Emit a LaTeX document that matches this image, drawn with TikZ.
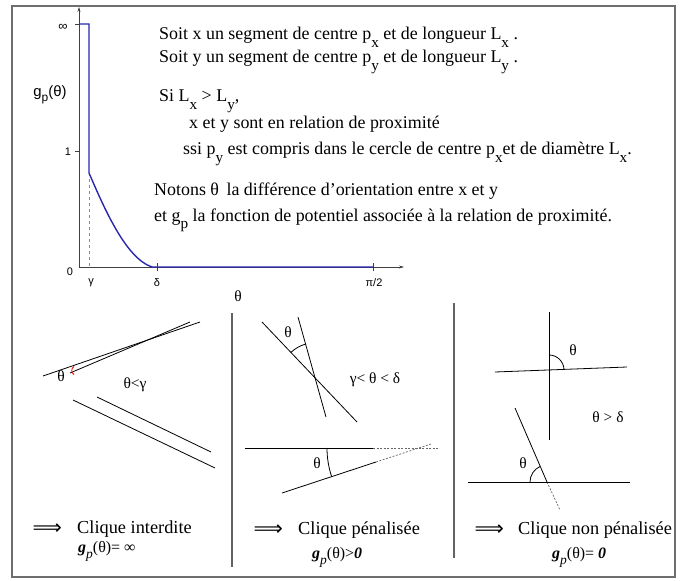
\documentclass[tikz,border=0pt]{standalone}
\usepackage{fontspec}
\usepackage{graphicx}
\setmainfont{Liberation Serif}
\newfontfamily\axisfont{Liberation Sans}
\newfontfamily\arrowfont{DejaVu Sans}
\usetikzlibrary{arrows.meta,calc}
\newcommand\lsub[1]{\raisebox{-0.42em}{\scalebox{0.85}{#1}}}
\definecolor{curveblue}{RGB}{40,40,175}
\definecolor{framegray}{RGB}{110,110,110}
\tikzset{
  frame/.style={draw=framegray,line width=1.5bp},
  divider/.style={draw=framegray!90!black,line width=1.1bp},
  axis/.style={draw=black!75,line width=0.6bp},
  curve/.style={draw=curveblue,line width=1.4bp},
  seg/.style={draw=black,line width=0.8bp},
  dseg/.style={draw=black!60,line width=0.7bp,dash pattern=on 2bp off 1.5bp},
  angarc/.style={draw=black,line width=0.8bp},
  toptext/.style={anchor=base west,inner sep=0,font=\fontsize{18}{21}\selectfont},
  bigtext/.style={anchor=base west,inner sep=0,font=\fontsize{18.4}{21}\selectfont},
  formula/.style={anchor=base west,inner sep=0,font=\fontsize{16}{19}\selectfont},
  implies/.style={anchor=base east,inner sep=0,font=\arrowfont\fontsize{20.5}{22}\selectfont},
  axlab/.style={inner sep=0,font=\axisfont\fontsize{11}{13}\selectfont},
  thetalab/.style={inner sep=0,font=\fontsize{15.5}{18}\selectfont},
}
\begin{document}
\begin{tikzpicture}[x=1bp,y=-1bp]
\useasboundingbox (0,0) rectangle (684,581);
\draw[frame] (12,6) rectangle (675,577);

% ---- graph ----
\coordinate (O) at (79,267);
\coordinate (Ytop) at (79,7);
\coordinate (Xend) at (404,267);
\draw[axis,-{Stealth[length=5bp,width=3bp]}] (O) -- (Ytop);
\draw[axis,-{Stealth[length=5bp,width=3bp]}] (O) -- (Xend);
\coordinate (t1a) at (75,151); \coordinate (t1b) at (79,151);
\draw[axis] (t1a) -- (t1b);
\coordinate (tia) at (75,24); \coordinate (tib) at (79,24);
\draw[axis] (tia) -- (tib);
\coordinate (tda) at (157,263); \coordinate (tdb) at (157,271);
\draw[axis] (tda) -- (tdb);
\coordinate (tpa) at (373,263); \coordinate (tpb) at (373,271);
\draw[axis] (tpa) -- (tpb);
\coordinate (ga) at (89,173); \coordinate (gb) at (89,267);
\draw[draw=black!45,line width=0.6bp,dashed] (ga) -- (gb);
\coordinate (c0) at (79,24); \coordinate (c1) at (89,24);
\coordinate (c3) at (152,267); \coordinate (c4) at (373,267);
\draw[curve] (c0) -- (c1) -- (ga) .. controls (103,205) and (125,258) .. (c3) -- (c4);

\node[axlab,font=\axisfont\fontsize{13}{14}\selectfont] (linf) at (63,27) {∞};
\node[axlab] (l1) at (68,152) {1};
\node[axlab] (l0) at (70,272) {0};
\node[axlab] (lgam) at (91,283) {γ};
\node[axlab] (ldel) at (157,283) {δ};
\node[axlab] (lpi) at (374,283) {π/2};
\node[inner sep=0,font=\axisfont\fontsize{15}{18}\selectfont] (lgp) at (50,95) {g\raisebox{-0.3em}{\scalebox{0.8}{p}}(θ)};
\node[thetalab] (lth) at (238,296) {θ};

% ---- top text ----
\node[toptext] (tx1) at (159,40) {Soit x un segment de centre p\lsub{x} et de longueur L\lsub{x} .};
\node[toptext] (tx2) at (159,63) {Soit y un segment de centre p\lsub{y} et de longueur L\lsub{y} .};
\node[toptext] (tx3) at (159,102) {Si L\lsub{x} > L\lsub{y},};
\node[toptext] (tx4) at (189,129) {x et y sont en relation de proximité};
\node[toptext] (tx5) at (183,155) {ssi p\lsub{y} est compris dans le cercle de centre p\lsub{x}et de diamètre L\lsub{x}.};
\node[toptext] (tx6) at (154,196) {Notons θ\, la différence d’orientation entre x et y};
\node[toptext] (tx7) at (154,221) {et g\lsub{p} la fonction de potentiel associée à la relation de proximité.};

% ---- dividers ----
\coordinate (d1a) at (232,313); \coordinate (d1b) at (232,567);
\draw[divider] (d1a) -- (d1b);
\coordinate (d2a) at (454,303); \coordinate (d2b) at (454,558);
\draw[divider] (d2a) -- (d2b);

% ---- panel 1 ----
\coordinate (A1) at (43,376); \coordinate (A2) at (200,322);
\coordinate (B1) at (70,373); \coordinate (B2) at (190,322);
\draw[seg] (A1) -- (A2);
\draw[seg] (B1) -- (B2);
\coordinate (ra) at (74,366.5); \coordinate (rb) at (74,374.5);
\draw[red,line width=0.8bp] (ra) .. controls (71,368) and (71,373) .. (rb);
\node[thetalab] (p1th) at (61,376) {θ};
\node[thetalab] (p1lab) at (135,385) {θ<γ};
\coordinate (C1) at (97,397); \coordinate (C2) at (211,452);
\coordinate (D1) at (73,400); \coordinate (D2) at (215,468);
\draw[seg] (C1) -- (C2);
\draw[seg] (D1) -- (D2);
\node[implies] (ar1) at (62,534) {⟹};
\node[bigtext] (cl1) at (77,533) {Clique interdite};
\node[formula] (f1) at (78,552) {\textbf{\textit{g}}\lsub{\textit{p}}(θ)= ∞};

% ---- panel 2 ----
\coordinate (E1) at (262,322); \coordinate (E2) at (357,422);
\coordinate (F1) at (298,317); \coordinate (F2) at (326,417);
\draw[seg] (E1) -- (E2);
\draw[seg] (F1) -- (F2);
\coordinate (EF) at (315,377.8);
\draw[angarc] ($(EF)+(-133.5:35)$) arc[start angle=-133.5,end angle=-105.6,radius=35];
\node[thetalab] (p2th1) at (288,332) {θ};
\node[thetalab] (p2lab) at (375,380) {γ< θ < δ};
\coordinate (G1) at (245,448); \coordinate (G2) at (373,448); \coordinate (G3) at (438,448);
\draw[seg] (G1) -- (G2);
\draw[dseg] (G2) -- (G3);
\coordinate (H1) at (282,493); \coordinate (H2) at (376,462); \coordinate (H3) at (431,444);
\draw[seg] (H1) -- (H2);
\draw[dseg] (H2) -- (H3);
\coordinate (GH) at (418,448);
\draw[angarc] ($(GH)+(180:91)$) arc[start angle=180,end angle=161.7,radius=91];
\node[thetalab] (p2th2) at (317,463) {θ};
\node[implies] (ar2) at (283,535) {⟹};
\node[bigtext] (cl2) at (298,534) {Clique pénalisée};
\node[formula] (f2) at (312,558) {\textbf{\textit{g}}\lsub{\textit{p}}(θ)>\textbf{\textit{0}}};

% ---- panel 3 ----
\coordinate (V1) at (549,312); \coordinate (V2) at (549,440);
\draw[seg] (V1) -- (V2);
\coordinate (W1) at (495,372); \coordinate (W2) at (627,367);
\draw[seg] (W1) -- (W2);
\coordinate (VW) at (549,370);
\draw[angarc] ($(VW)+(-90:15)$) arc[start angle=-90,end angle=-2,radius=15];
\node[thetalab] (p3th1) at (573,350) {θ};
\node[thetalab] (p3lab) at (608,417) {θ > δ};
\coordinate (S1) at (515,408); \coordinate (S2) at (547,482); \coordinate (S3) at (560,510);
\draw[seg] (S1) -- (S2);
\draw[dseg] (S2) -- (S3);
\coordinate (K1) at (468,482); \coordinate (K2) at (630,482);
\draw[seg] (K1) -- (K2);
\draw[angarc] ($(S2)+(180:17)$) arc[start angle=180,end angle=246.6,radius=17];
\node[thetalab] (p3th2) at (523,463) {θ};
\node[implies] (ar3) at (504,535) {⟹};
\node[bigtext] (cl3) at (518,534) {Clique non pénalisée};
\node[formula] (f3) at (552,558) {\textbf{\textit{g}}\lsub{\textit{p}}(θ)= \textbf{\textit{0}}};
\end{tikzpicture}
\end{document}
